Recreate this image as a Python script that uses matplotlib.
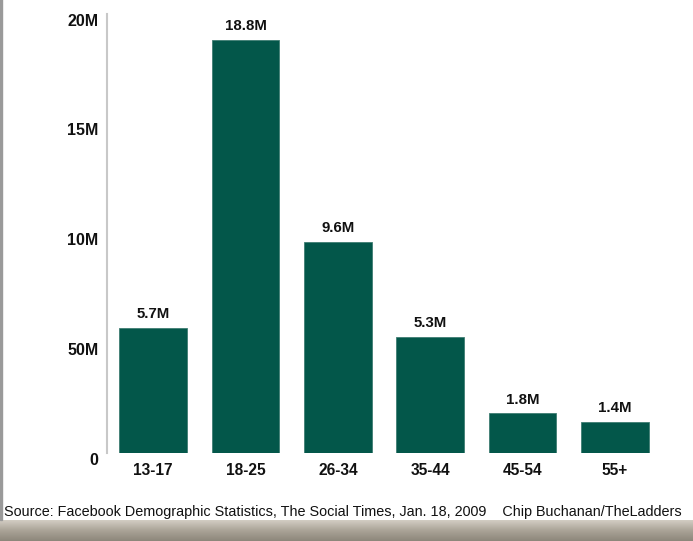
import numpy as np
import matplotlib.pyplot as plt
import matplotlib.transforms as mtransforms
from matplotlib.patches import Rectangle

# data (millions of users by age group)
groups = ['13-17', '18-25', '26-34', '35-44', '45-54', '55+']
users = [5.7, 18.8, 9.6, 5.3, 1.8, 1.4]
value_labels = ['5.7M', '18.8M', '9.6M', '5.3M', '1.8M', '1.4M']
yticks = [0, 5, 10, 15, 20]
ytick_labels = ['0', '50M', '10M', '15M', '20M']

plt.rcParams['font.family'] = ['Liberation Sans', 'DejaVu Sans']

fig = plt.figure(figsize=(6.93, 5.41), dpi=100)
ax = fig.add_axes([107/693, 88/541, 554/693, 439/541])

x = np.arange(len(groups))
ax.bar(x, users, width=0.73, color='#03574a', edgecolor='#3f7d72', linewidth=0.6)

for xi, v, lab in zip(x, users, value_labels):
    ax.annotate(lab, (xi, v), xytext=(0, 5), textcoords='offset points',
                ha='center', va='bottom', fontsize=10.8, fontweight='bold', color='#111111')

ax.set_xlim(-0.5, 5.5)
ax.set_ylim(0, 20)
ax.set_xticks(x)
ax.set_xticklabels(groups, fontsize=11.2, fontweight='bold', color='#111111')
ax.set_yticks(yticks)
ax.set_yticklabels(ytick_labels, fontsize=11.5, fontweight='bold', color='#111111')
ax.tick_params(axis='both', length=0)
ax.tick_params(axis='x', pad=7)
ax.tick_params(axis='y', pad=6)

# y labels sit a little below their tick positions
shift = mtransforms.ScaledTranslation(0, -4/72, fig.dpi_scale_trans)
for t in ax.get_yticklabels():
    t.set_transform(t.get_transform() + shift)

for s in ['top', 'right', 'bottom']:
    ax.spines[s].set_visible(False)
ax.spines['left'].set_color('#c8c8c8')
ax.spines['left'].set_linewidth(1.5)

fig.text(4/693, 1 - 512/541, 'Source: Facebook Demographic Statistics, The Social Times, Jan. 18, 2009    Chip Buchanan/TheLadders',
         fontsize=10.35, ha='left', va='center', color='#111111')

# frame bits: thin left border and the bottom band
fig.patches.append(Rectangle((0, 21/541), 1.5/693, 1, transform=fig.transFigure,
                             color='#9a9a9a', zorder=0))
grad = np.linspace(0, 1, 50).reshape(-1, 1)
band_ax = fig.add_axes([0, 0, 1, 21/541])
band_ax.imshow(grad, aspect='auto', cmap=plt.matplotlib.colors.LinearSegmentedColormap.from_list(
    'band', ['#d2cdc3', '#aaa397', '#8d877b']), extent=[0, 1, 0, 1])
band_ax.axis('off')

fig.savefig('out.png', dpi=100)
